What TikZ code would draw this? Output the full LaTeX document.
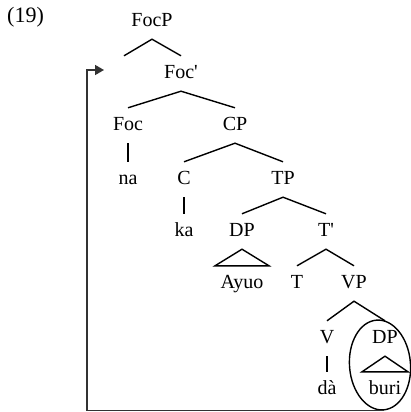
\documentclass[tikz,border=0pt]{standalone}
\usepackage{fontspec}
\setmainfont{Liberation Serif}
\usetikzlibrary{shapes.geometric,arrows.meta}
\begin{document}
\begin{tikzpicture}[x=1pt,y=-1pt,
  lab/.style={anchor=base,inner xsep=1pt,inner ysep=9pt,text height=13.6pt,text depth=3.4pt,
    font=\fontsize{20}{24}\selectfont},
  branch/.style={line width=1.4pt,line cap=butt},
  roof/.style={line width=1.4pt,line join=miter},
  movement/.style={line width=1.6pt,draw=black!80,-{Triangle[length=9pt,width=10pt]}}]
\useasboundingbox (0,0) rectangle (410,412);

% example number
\node[anchor=base west,inner sep=0pt,font=\fontsize{22}{26}\selectfont] (exnum) at (7,23) {(19)};

% tree labels
\node[lab] (FocP)  at (152,26.6)  {FocP};
\node[lab,minimum width=40pt,text width=0pt] (spec) at (124,78.6) {};
\node[lab] (Focbar) at (181,78.6) {Foc\textquotesingle};
\node[lab] (Foc)   at (128,130.6) {Foc};
\node[lab] (CP)    at (235,130.6) {CP};
\node[lab] (na)    at (128,184.6) {na};
\node[lab] (C)     at (184,184.6) {C};
\node[lab] (TP)    at (283,184.6) {TP};
\node[lab] (ka)    at (184,236.6) {ka};
\node[lab] (DP)    at (242,236.6) {DP};
\node[lab] (Tbar)  at (326,236.6) {T\textquotesingle};
\node[lab] (Ayuo)  at (242,288.6) {Ayuo};
\node[lab] (T)     at (297,288.6) {T};
\node[lab] (VP)    at (354,288.6) {VP};
\node[lab] (V)     at (327,343.6) {V};
\node[lab] (DPo)   at (385,343.6) {DP};
\node[lab] (da)    at (327,394.6) {dà};
\node[lab] (buri)  at (385,394.6) {buri};

% branches
\draw[branch] (spec.north) -- (FocP.south) -- (Focbar.north);
\draw[branch] (Foc.north) -- (Focbar.south) -- (CP.north);
\draw[branch] (C.north) -- (CP.south) -- (TP.north);
\draw[branch] (DP.north) -- (TP.south) -- (Tbar.north);
\draw[branch] (T.north) -- (Tbar.south) -- (VP.north);
\draw[branch] (V.north) -- (VP.south) -- (DPo.north);
\draw[branch] (Foc.south) -- (na.north);
\draw[branch] (C.south) -- (ka.north);
\draw[branch] (V.south) -- (da.north);

% triangles over phrases
\draw[roof] (DP.south) -- ([xshift=-27pt]Ayuo.north) -- ([xshift=27pt]Ayuo.north) -- cycle;
\draw[roof] (DPo.south) -- ([xshift=-23pt]buri.north) -- ([xshift=23pt]buri.north) -- cycle;

% circled object
\node[draw,ellipse,line width=1.4pt,minimum width=61pt,minimum height=90pt,inner sep=0pt,rotate=4.5]
  (ring) at (380,365) {};

% movement arrow
\coordinate (gutter) at (87,70);
\coordinate (land) at (104,70);
\draw[movement] (ring.south) -| (gutter) -- (land);
\end{tikzpicture}
\end{document}
